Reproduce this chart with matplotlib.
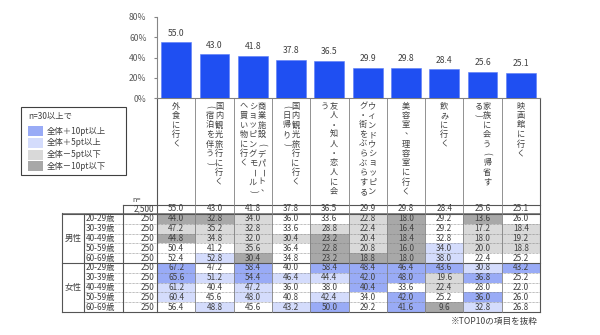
import numpy as np
import matplotlib.pyplot as plt
from matplotlib.patches import Rectangle

plt.rcParams["font.family"] = ["Noto Sans CJK JP", "DejaVu Sans"]

# %% data
items = [
    ["外食に行く"],
    ["国内観光旅行に行く", "（宿泊を伴う）"],
    ["商業施設（デパート、", "ショッピングモール）", "へ買い物に行く"],
    ["国内観光旅行に行く", "（日帰り）"],
    ["友人・知人・恋人に会", "う"],
    ["ウィンドウショッピン", "グ・街をぶらぶらする"],
    ["美容室、理容室に行く"],
    ["飲みに行く"],
    ["家族に会う（帰省す", "る）"],
    ["映画館に行く"],
]
total = [55.0, 43.0, 41.8, 37.8, 36.5, 29.9, 29.8, 28.4, 25.6, 25.1]
n_total = "2,500"

ages = ["20-29歳", "30-39歳", "40-49歳", "50-59歳", "60-69歳"]
n_age = [250, 250, 250, 250, 250]

male = [
    [44.0, 32.8, 34.0, 36.0, 33.6, 22.8, 18.0, 29.2, 13.6, 26.0],
    [47.2, 35.2, 32.8, 33.6, 28.8, 22.4, 16.4, 29.2, 17.2, 18.4],
    [44.8, 34.8, 32.0, 30.4, 23.2, 20.4, 18.4, 32.8, 18.0, 19.2],
    [50.4, 41.2, 35.6, 36.4, 22.8, 20.8, 16.0, 34.0, 20.0, 18.8],
    [52.4, 52.8, 30.4, 34.8, 23.2, 18.8, 18.0, 38.0, 22.4, 25.2],
]
female = [
    [67.2, 47.2, 58.4, 40.0, 58.4, 48.4, 46.4, 43.6, 30.8, 43.2],
    [65.6, 51.2, 54.4, 46.4, 44.4, 42.0, 48.0, 19.6, 36.8, 25.2],
    [61.2, 40.4, 47.2, 36.0, 38.0, 40.4, 33.6, 22.4, 28.0, 22.0],
    [60.4, 45.6, 48.0, 40.8, 42.4, 34.0, 42.0, 25.2, 36.0, 26.0],
    [56.4, 48.8, 45.6, 43.2, 50.0, 29.2, 41.6, 9.6, 32.8, 26.8],
]
groups = [("男性", male), ("女性", female)]

legend_labels = ["全体＋10pt以上", "全体＋5pt以上", "全体－5pt以下", "全体－10pt以下"]
legend_colors = ["#99ABF6", "#D4DCFC", "#D9D9D9", "#A8A8A8"]


def cell_color(diff):
    if diff >= 10:
        return legend_colors[0]
    if diff >= 5:
        return legend_colors[1]
    if diff <= -10:
        return legend_colors[3]
    if diff <= -5:
        return legend_colors[2]
    return "white"


# %% layout (pixels)
W, H = 600, 335
col_x0, col_w = 157, 38.3
ax_top, ax_bot = 17, 98
lab_bot = 205
row0, row_h = 214, 9.8
edges = col_x0 + col_w * np.arange(len(total) + 1)
line_c = "#808080"
txt_c = "#404040"

fig = plt.figure(figsize=(6, 3.35), dpi=100)
fig.patch.set_facecolor("white")

# %% table and labels
tb = fig.add_axes([0, 0, 1, 1])
tb.set_xlim(0, W)
tb.set_ylim(H, 0)
tb.axis("off")

# vertical labels (one glyph at a time, brackets and long vowel turned)
turn = {"（": "(", "）": ")", "ー": "ー"}
pitch, lsp = 9.5, 9.0
for c, lines in enumerate(items):
    cx = (edges[c] + edges[c + 1]) / 2
    nl = len(lines)
    for j, line in enumerate(lines):
        lx = cx + (nl - 1) / 2 * lsp - j * lsp
        for k, ch in enumerate(line):
            dx, dy = 0, 0
            if ch == "、":
                dx, dy = 2.5, -2.5
            tb.text(lx + dx, 106 + k * pitch + dy, turn.get(ch, ch), ha="center", va="center",
                    rotation=-90 if ch in turn else 0, fontsize=5.9, color=txt_c)

n_rows = sum(len(g[1]) for g in groups)
tab_bot = row0 + row_h * n_rows

# cells
r = 0
for gname, rows in groups:
    g_top = row0 + r * row_h
    for i, vals in enumerate(rows):
        y = row0 + r * row_h
        for c, v in enumerate(vals):
            tb.add_patch(Rectangle((edges[c], y), col_w, row_h,
                                   facecolor=cell_color(v - total[c]), edgecolor="none"))
            tb.text((edges[c] + edges[c + 1]) / 2, y + row_h / 2, f"{v:.1f}",
                    ha="center", va="center", fontsize=5.9, color=txt_c)
        tb.text(86, y + row_h / 2, ages[i], ha="left", va="center", fontsize=5.9, color=txt_c)
        tb.text(154, y + row_h / 2, str(n_age[i]), ha="right", va="center", fontsize=5.9, color=txt_c)
        if i > 0:
            tb.plot([84, edges[-1]], [y, y], color=line_c, lw=0.5, ls=(0, (1, 1)))
        r += 1
    tb.text(73, g_top + row_h * len(rows) / 2, gname, ha="center", va="center",
            fontsize=6.1, color=txt_c)
    tb.plot([62, edges[-1]], [g_top, g_top], color="#555555", lw=0.8)
tb.plot([62, edges[-1]], [tab_bot, tab_bot], color="#555555", lw=0.8)
tb.plot([62, edges[-1]], [row0 - 1.2, row0 - 1.2], color="#555555", lw=0.5)

# total row
tb.text(132, 200, "n=", ha="left", va="center", fontsize=5.3, color=txt_c)
ty = (lab_bot + row0 - 1.2) / 2
tb.text(154, ty, n_total, ha="right", va="center", fontsize=5.9, color=txt_c)
for c, v in enumerate(total):
    tb.text((edges[c] + edges[c + 1]) / 2, ty, f"{v:.1f}",
            ha="center", va="center", fontsize=5.9, color=txt_c)
tb.plot([123, edges[-1]], [lab_bot, lab_bot], color="#555555", lw=0.8)

# vertical lines
for e in edges[1:-1]:
    tb.plot([e, e], [ax_bot, tab_bot], color=line_c, lw=0.6)
tb.plot([edges[0], edges[0]], [ax_bot, tab_bot], color="#555555", lw=0.8)
tb.plot([edges[-1], edges[-1]], [ax_bot, tab_bot], color="#555555", lw=0.8)
tb.plot([edges[0], edges[-1]], [ax_bot, ax_bot], color=line_c, lw=0.8)
tb.plot([123, 123], [lab_bot, tab_bot], color="#555555", lw=0.8)
tb.plot([84, 84], [row0, tab_bot], color="#555555", lw=0.8)
tb.plot([62, 62], [row0 - 1.2, tab_bot], color="#555555", lw=0.8)

# legend box
tb.add_patch(Rectangle((21, 107), 105, 68, facecolor="white", edgecolor="#404040", lw=0.8))
tb.text(28, 116, "n=30以上で", ha="left", va="center", fontsize=6, color=txt_c)
for i, (lab, col) in enumerate(zip(legend_labels, legend_colors)):
    ly = 131 + i * 11.8
    tb.add_patch(Rectangle((28, ly - 5), 15, 10, facecolor=col, edgecolor="none"))
    tb.text(47, ly, lab, ha="left", va="center", fontsize=6, color=txt_c)

tb.text(538, 321, "※TOP10の項目を抜粋", ha="right", va="center", fontsize=6.2, color=txt_c)

# %% bars
ax = fig.add_axes([col_x0 / W, 1 - ax_bot / H, (edges[-1] - col_x0) / W, (ax_bot - ax_top) / H])
x = np.arange(len(total)) + 0.5
ax.bar(x, total, width=0.78, color="#1F4FF2", edgecolor="#5A7CF7", lw=0.4, zorder=2)
for xi, v in zip(x, total):
    ax.text(xi, v + 9, f"{v:.1f}", ha="center", va="center", fontsize=6.2, color=txt_c)
ax.set_xlim(0, len(total))
ax.set_ylim(0, 80)
ax.set_yticks([0, 20, 40, 60, 80])
ax.set_yticklabels([f"{t}%" for t in [0, 20, 40, 60, 80]])
ax.set_xticks([])
for s in ["top", "right", "bottom"]:
    ax.spines[s].set_visible(False)
ax.spines["left"].set_color("#868686")
ax.tick_params(axis="y", length=2.5, color="#868686", labelsize=6.2, labelcolor="#595959", pad=5)
ax.patch.set_alpha(0)

fig.savefig("out.png", dpi=100)
